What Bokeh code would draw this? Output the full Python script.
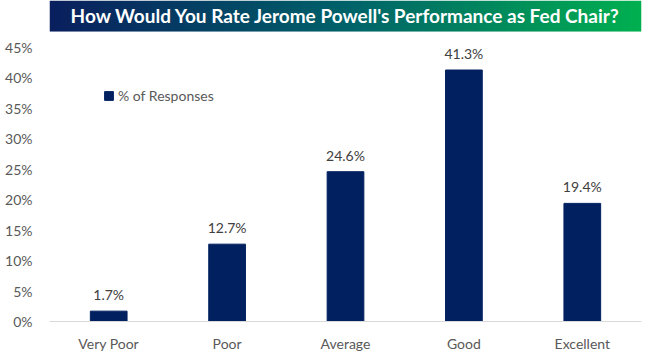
import numpy as np
from bokeh.plotting import figure
from bokeh.layouts import column
from bokeh.models import ColumnDataSource, LabelSet, NumeralTickFormatter, FixedTicker, Range1d
from bokeh.core.properties import value
from bokeh.embed import file_html
from bokeh.resources import INLINE

title = "How Would You Rate Jerome Powell's Performance as Fed Chair?"
categories = ["Very Poor", "Poor", "Average", "Good", "Excellent"]
responses = [0.017, 0.127, 0.246, 0.413, 0.194]
labels = ["1.7%", "12.7%", "24.6%", "41.3%", "19.4%"]
y_ticks = [0, 0.05, 0.10, 0.15, 0.20, 0.25, 0.30, 0.35, 0.40, 0.45]

FONT = "Lato"
W = 660
TITLE_H = 32
MAIN_H = 354 - TITLE_H

# --- title bar with gradient ---
tb = figure(width=W, height=TITLE_H, x_range=Range1d(0, 1), y_range=Range1d(0, 1),
            output_backend="svg", toolbar_location=None, min_border=0)
tb.axis.visible = False
tb.grid.visible = False
tb.outline_line_color = None
n = 256
t = np.linspace(0, 1, n)
c0 = np.array([0x0a, 0x1f, 0x5e])
c1 = np.array([0x00, 0x62, 0x6a])
c2 = np.array([0x00, 0xb0, 0x50])
rgb = np.zeros((n, 3))
for i, tt in enumerate(t):
    if tt < 0.5:
        rgb[i] = c0 + (c1 - c0) * (tt / 0.5)
    else:
        rgb[i] = c1 + (c2 - c1) * ((tt - 0.5) / 0.5)
img = np.zeros((1, n), dtype=np.uint32)
view = img.view(dtype=np.uint8).reshape((1, n, 4))
view[0, :, 0] = rgb[:, 0].astype(np.uint8)
view[0, :, 1] = rgb[:, 1].astype(np.uint8)
view[0, :, 2] = rgb[:, 2].astype(np.uint8)
view[0, :, 3] = 255
tb.image_rgba(image=[img], x=0, y=0.03, dw=1, dh=0.97)
tb.text(x=[0.5], y=[0.52], text=[title], text_font=value(FONT), text_font_style="bold",
        text_font_size="19px", text_color="white", text_align="center", text_baseline="middle")

# --- main chart ---
src = ColumnDataSource(dict(cat=categories, val=responses, lab=labels))
p = figure(width=W, height=MAIN_H, x_range=categories, y_range=Range1d(0, 0.45),
           output_backend="svg", toolbar_location=None,
           min_border_left=49, min_border_right=19, min_border_top=15, min_border_bottom=32)
p.vbar(x="cat", top="val", width=0.31, source=src, color="#002060",
       legend_label="% of Responses")
p.add_layout(LabelSet(x="cat", y="val", text="lab", source=src, y_offset=8,
                      text_align="center", text_baseline="bottom",
                      text_font=value(FONT), text_font_size="14px", text_color="#404040"))

p.outline_line_color = None
p.grid.visible = False
p.background_fill_color = "white"

p.yaxis.ticker = FixedTicker(ticks=y_ticks)
p.yaxis.formatter = NumeralTickFormatter(format="0%")
p.yaxis.axis_line_color = None
p.yaxis.major_tick_line_color = None
p.yaxis.minor_tick_line_color = None
p.yaxis.major_tick_out = 0
p.yaxis.minor_tick_out = 0
p.yaxis.major_label_standoff = 17
p.yaxis.major_label_text_font = FONT
p.yaxis.major_label_text_font_size = "14px"
p.yaxis.major_label_text_color = "#595959"

p.xaxis.axis_line_color = "#d9d9d9"
p.xaxis.axis_line_width = 1
p.xaxis.major_tick_line_color = None
p.xaxis.minor_tick_line_color = None
p.xaxis.major_tick_out = 0
p.xaxis.minor_tick_out = 0
p.xaxis.major_label_standoff = 13
p.xaxis.major_label_text_font = FONT
p.xaxis.major_label_text_font_size = "14px"
p.xaxis.major_label_text_color = "#595959"
p.x_range.range_padding = 0

lg = p.legend[0]
lg.location = (54, 217)
lg.border_line_color = None
lg.background_fill_alpha = 0
lg.glyph_width = 11
lg.glyph_height = 11
lg.label_text_font = FONT
lg.label_text_font_size = "14px"
lg.label_text_color = "#595959"
lg.padding = 2
lg.margin = 0
lg.label_standoff = 4

layout = column(tb, p, spacing=0)
open("out.html", "w").write(file_html(layout, INLINE))
